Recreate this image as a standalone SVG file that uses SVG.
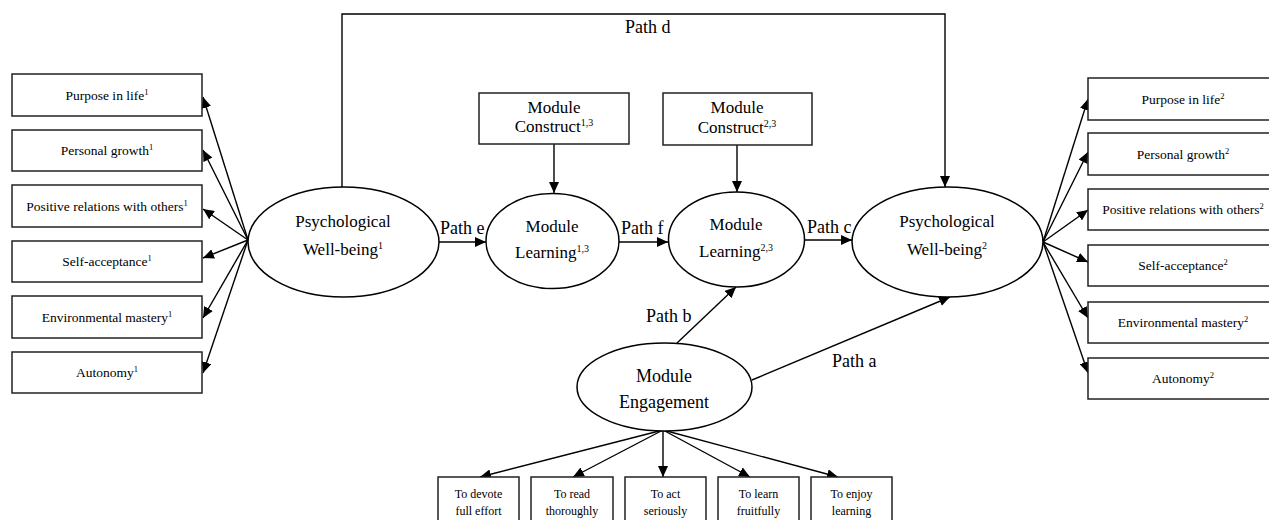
<svg xmlns="http://www.w3.org/2000/svg" width="1269" height="520" viewBox="0 0 1269 520">
<style>
text{font-family:"Liberation Serif","Times New Roman",serif;fill:#000;text-anchor:middle}
.box{fill:#fff;stroke:#222;stroke-width:1.5}
.ell{fill:#fff;stroke:#000;stroke-width:1.5}
.n{font-size:17px}
.ne{font-size:18px}
.ind{font-size:13.5px}
.sm{font-size:12px}
.lbl{font-size:18px;text-anchor:start}
.c{fill:none;stroke:#000;stroke-width:1.4;marker-end:url(#ah)}
.s1{font-size:8.5px}
.s2{font-size:10px}
</style>
<defs>
<marker id="ah" markerUnits="userSpaceOnUse" markerWidth="12" markerHeight="10" refX="11" refY="5" orient="auto">
<path d="M0,0 L11,5 L0,10 z" fill="#000"/>
</marker>
</defs>

<g id="connectors">
<line class="c" x1="248" y1="240" x2="203" y2="97"/>
<line class="c" x1="248" y1="240" x2="203" y2="150"/>
<line class="c" x1="248" y1="240" x2="203" y2="209"/>
<line class="c" x1="248" y1="240" x2="203" y2="258"/>
<line class="c" x1="248" y1="240" x2="203" y2="318"/>
<line class="c" x1="248" y1="240" x2="203" y2="373"/>
<line class="c" x1="1043" y1="242" x2="1088" y2="99"/>
<line class="c" x1="1043" y1="242" x2="1088" y2="152"/>
<line class="c" x1="1043" y1="242" x2="1088" y2="210"/>
<line class="c" x1="1043" y1="242" x2="1088" y2="262"/>
<line class="c" x1="1043" y1="242" x2="1088" y2="318"/>
<line class="c" x1="1043" y1="242" x2="1088" y2="373"/>
<line class="c" x1="439" y1="242" x2="486" y2="242"/>
<line class="c" x1="619" y1="242" x2="668" y2="242"/>
<line class="c" x1="805" y1="240" x2="852" y2="240"/>
<line class="c" x1="554" y1="144" x2="554" y2="193"/>
<line class="c" x1="737" y1="145" x2="737" y2="192"/>
<polyline class="c" points="342,187 342,14 945,14 945,187"/>
<line class="c" x1="677" y1="343" x2="736" y2="287"/>
<line class="c" x1="752" y1="380" x2="950" y2="297"/>
<line class="c" x1="663" y1="430" x2="480" y2="477"/>
<line class="c" x1="663" y1="430" x2="573" y2="477"/>
<line class="c" x1="663" y1="430" x2="663" y2="477"/>
<line class="c" x1="663" y1="430" x2="750" y2="477"/>
<line class="c" x1="663" y1="430" x2="838" y2="477"/>
<text class="lbl" x="625" y="33">Path d</text>
<text class="lbl" x="440" y="234">Path e</text>
<text class="lbl" x="621" y="234">Path f</text>
<text class="lbl" x="807" y="233">Path c</text>
<text class="lbl" x="646" y="322">Path b</text>
<text class="lbl" x="832" y="367">Path a</text>
</g>

<g id="pwb1">
<ellipse class="ell" cx="343.5" cy="242" rx="95.5" ry="55"/>
<text class="n" x="343" y="227">Psychological</text>
<text class="n" x="343" y="255">Well-being<tspan class="s2" dy="-6">1</tspan></text>
</g>
<g id="ml1">
<ellipse class="ell" cx="552.5" cy="241" rx="66.5" ry="47.5"/>
<text class="n" x="552" y="232">Module</text>
<text class="n" x="552" y="258">Learning<tspan class="s2" dy="-6">1,3</tspan></text>
</g>
<g id="ml2">
<ellipse class="ell" cx="736.5" cy="239.5" rx="68" ry="47.5"/>
<text class="n" x="736" y="230">Module</text>
<text class="n" x="736" y="257">Learning<tspan class="s2" dy="-6">2,3</tspan></text>
</g>
<g id="pwb2">
<ellipse class="ell" cx="947.5" cy="242" rx="95.5" ry="55"/>
<text class="n" x="947" y="227">Psychological</text>
<text class="n" x="947" y="255">Well-being<tspan class="s2" dy="-6">2</tspan></text>
</g>
<g id="mc1">
<rect class="box" x="479" y="93" width="150" height="51"/>
<text class="n" x="554" y="113">Module</text>
<text class="n" x="554" y="132">Construct<tspan class="s2" dy="-6">1,3</tspan></text>
</g>
<g id="mc2">
<rect class="box" x="663" y="93" width="149" height="52"/>
<text class="n" x="737" y="113">Module</text>
<text class="n" x="737" y="133">Construct<tspan class="s2" dy="-6">2,3</tspan></text>
</g>
<g id="me">
<ellipse class="ell" cx="664.5" cy="387" rx="87.5" ry="44"/>
<text class="ne" x="664" y="382">Module</text>
<text class="ne" x="664" y="408">Engagement</text>
</g>

<g id="l1"><rect class="box" x="12" y="74" width="190" height="42"/><text class="ind" x="107" y="100">Purpose in life<tspan class="s1" dy="-5">1</tspan></text></g>
<g id="l2"><rect class="box" x="12" y="130" width="190" height="41"/><text class="ind" x="107" y="155">Personal growth<tspan class="s1" dy="-5">1</tspan></text></g>
<g id="l3"><rect class="box" x="12" y="185" width="190" height="42"/><text class="ind" x="107" y="211">Positive relations with others<tspan class="s1" dy="-5">1</tspan></text></g>
<g id="l4"><rect class="box" x="12" y="241" width="190" height="41"/><text class="ind" x="107" y="266">Self-acceptance<tspan class="s1" dy="-5">1</tspan></text></g>
<g id="l5"><rect class="box" x="12" y="296" width="190" height="42"/><text class="ind" x="107" y="322">Environmental mastery<tspan class="s1" dy="-5">1</tspan></text></g>
<g id="l6"><rect class="box" x="12" y="352" width="190" height="41"/><text class="ind" x="107" y="377">Autonomy<tspan class="s1" dy="-5">1</tspan></text></g>

<g id="r1"><rect class="box" x="1088" y="78" width="190" height="42"/><text class="ind" x="1183" y="104">Purpose in life<tspan class="s1" dy="-5">2</tspan></text></g>
<g id="r2"><rect class="box" x="1088" y="133" width="190" height="42"/><text class="ind" x="1183" y="159">Personal growth<tspan class="s1" dy="-5">2</tspan></text></g>
<g id="r3"><rect class="box" x="1088" y="189" width="190" height="41"/><text class="ind" x="1183" y="214">Positive relations with others<tspan class="s1" dy="-5">2</tspan></text></g>
<g id="r4"><rect class="box" x="1088" y="245" width="190" height="41"/><text class="ind" x="1183" y="270">Self-acceptance<tspan class="s1" dy="-5">2</tspan></text></g>
<g id="r5"><rect class="box" x="1088" y="302" width="190" height="41"/><text class="ind" x="1183" y="327">Environmental mastery<tspan class="s1" dy="-5">2</tspan></text></g>
<g id="r6"><rect class="box" x="1088" y="358" width="190" height="41"/><text class="ind" x="1183" y="383">Autonomy<tspan class="s1" dy="-5">2</tspan></text></g>

<g id="b1"><rect class="box" x="438" y="477" width="81" height="60"/><text class="sm" x="478.5" y="498">To devote</text><text class="sm" x="478.5" y="515">full effort</text></g>
<g id="b2"><rect class="box" x="531" y="477" width="82" height="60"/><text class="sm" x="572" y="498">To read</text><text class="sm" x="572" y="515">thoroughly</text></g>
<g id="b3"><rect class="box" x="625" y="477" width="81" height="60"/><text class="sm" x="665.5" y="498">To act</text><text class="sm" x="665.5" y="515">seriously</text></g>
<g id="b4"><rect class="box" x="718" y="477" width="81" height="60"/><text class="sm" x="758.5" y="498">To learn</text><text class="sm" x="758.5" y="515">fruitfully</text></g>
<g id="b5"><rect class="box" x="811" y="477" width="81" height="60"/><text class="sm" x="851.5" y="498">To enjoy</text><text class="sm" x="851.5" y="515">learning</text></g>
</svg>
